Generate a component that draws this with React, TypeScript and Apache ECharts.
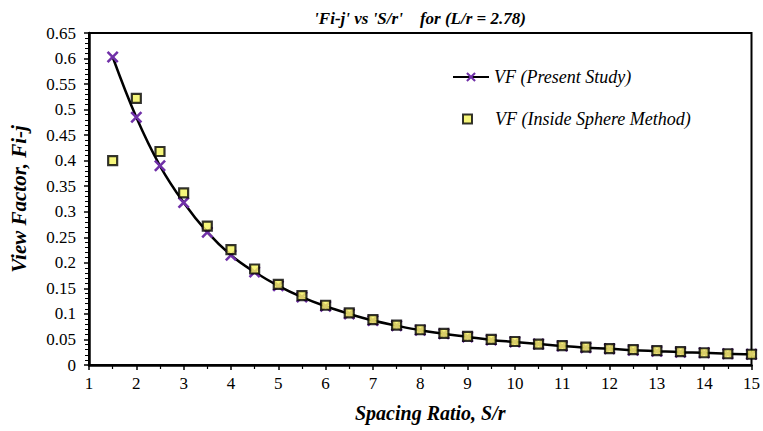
import React, { useEffect, useRef } from "react";
import * as echarts from "echarts";

const spacing = [1.5, 2, 2.5, 3, 3.5, 4, 4.5, 5, 5.5, 6, 6.5, 7, 7.5, 8, 8.5, 9, 9.5, 10, 10.5, 11, 11.5, 12, 12.5, 13, 13.5, 14, 14.5, 15];
const presentStudy = [0.603, 0.485, 0.39, 0.318, 0.26, 0.215, 0.182, 0.155, 0.133, 0.115, 0.1, 0.087, 0.077, 0.068, 0.061, 0.055, 0.049, 0.045, 0.041, 0.037, 0.034, 0.032, 0.029, 0.027, 0.025, 0.024, 0.022, 0.021];
const insideSphere = [0.40, 0.522, 0.418, 0.337, 0.272, 0.226, 0.188, 0.158, 0.136, 0.117, 0.102, 0.089, 0.078, 0.069, 0.062, 0.056, 0.050, 0.046, 0.041, 0.038, 0.035, 0.032, 0.030, 0.028, 0.026, 0.024, 0.022, 0.021];

const FONT = "'Liberation Serif', 'Times New Roman', serif";
const CROSS = "path://M0,1.5 L1.5,0 L5,3.5 L8.5,0 L10,1.5 L6.5,5 L10,8.5 L8.5,10 L5,6.5 L1.5,10 L0,8.5 L3.5,5 Z";

export default function App() {
  const ref = useRef<HTMLDivElement>(null);
  useEffect(() => {
    const chart = echarts.init(ref.current!, null, { renderer: "svg" });
    const legendText = { fontFamily: FONT, fontSize: 18, fontStyle: "italic", color: "#000" };
    chart.setOption({
      animation: false,
      backgroundColor: "#fff",
      textStyle: { fontFamily: FONT },
      title: {
        text: "'Fi-j' vs 'S/r'    for (L/r = 2.78)",
        left: 415,
        top: 5,
        textAlign: "center",
        textStyle: { fontFamily: FONT, fontSize: 17, fontWeight: "bold", fontStyle: "italic", color: "#000" },
      },
      legend: [
        {
          left: 447,
          top: 63,
          itemWidth: 36,
          itemHeight: 12,
          textStyle: legendText,
          data: ["VF (Present Study)"],
        },
        {
          left: 457,
          top: 105,
          itemWidth: 9,
          itemHeight: 9,
          textStyle: { ...legendText, padding: [0, 0, 0, 18] },
          data: ["VF (Inside Sphere Method)"],
        },
      ],
      grid: { left: 85, right: 11, top: 33, bottom: 66, show: true, borderColor: "#000", borderWidth: 2 },
      xAxis: {
        type: "value",
        min: 1,
        max: 15,
        interval: 1,
        name: "Spacing Ratio, S/r",
        nameLocation: "middle",
        nameGap: 38,
        nameTextStyle: { fontFamily: FONT, fontSize: 20, fontWeight: "bold", fontStyle: "italic", color: "#000", padding: [0, 0, 0, 20] },
        axisLine: { lineStyle: { color: "#000", width: 2.5 } },
        axisTick: { inside: false, length: 5, lineStyle: { color: "#000", width: 1.5 } },
        minorTick: { show: true, splitNumber: 2, length: 4, lineStyle: { color: "#000", width: 1.2 } },
        axisLabel: { fontFamily: FONT, fontSize: 17, color: "#000", margin: 10 },
        splitLine: { show: false },
      },
      yAxis: {
        type: "value",
        min: 0,
        max: 0.65,
        interval: 0.05,
        name: "View Factor, Fi-j",
        nameLocation: "middle",
        nameGap: 60,
        nameTextStyle: { fontFamily: FONT, fontSize: 21, fontWeight: "bold", fontStyle: "italic", color: "#000" },
        axisLine: { lineStyle: { color: "#000", width: 2.5 } },
        axisTick: { inside: false, length: 5, lineStyle: { color: "#000", width: 1.5 } },
        minorTick: { show: true, splitNumber: 5, length: 4, lineStyle: { color: "#000", width: 1 } },
        axisLabel: { fontFamily: FONT, fontSize: 17, color: "#000", margin: 13, formatter: (v: number) => String(Math.round(v * 100) / 100) },
        splitLine: { show: false },
      },
      series: [
        {
          name: "VF (Present Study)",
          type: "line",
          smooth: 0.4,
          data: spacing.map((x, i) => [x, presentStudy[i]]),
          symbol: CROSS,
          symbolSize: 12,
          showAllSymbol: true,
          lineStyle: { color: "#000", width: 2.5 },
          itemStyle: { color: "#7030a8", borderWidth: 0 },
          z: 2,
        },
        {
          name: "VF (Inside Sphere Method)",
          type: "scatter",
          data: spacing.map((x, i) => [x, insideSphere[i]]),
          symbol: "rect",
          symbolSize: 9,
          itemStyle: { color: "#f4f45a", borderColor: "#000", borderWidth: 2.2 },
          z: 3,
        },
      ],
    });
    return () => chart.dispose();
  }, []);
  return <div ref={ref} style={{ width: 763, height: 431, position: "absolute", left: 0, top: 0 }} />;
}
